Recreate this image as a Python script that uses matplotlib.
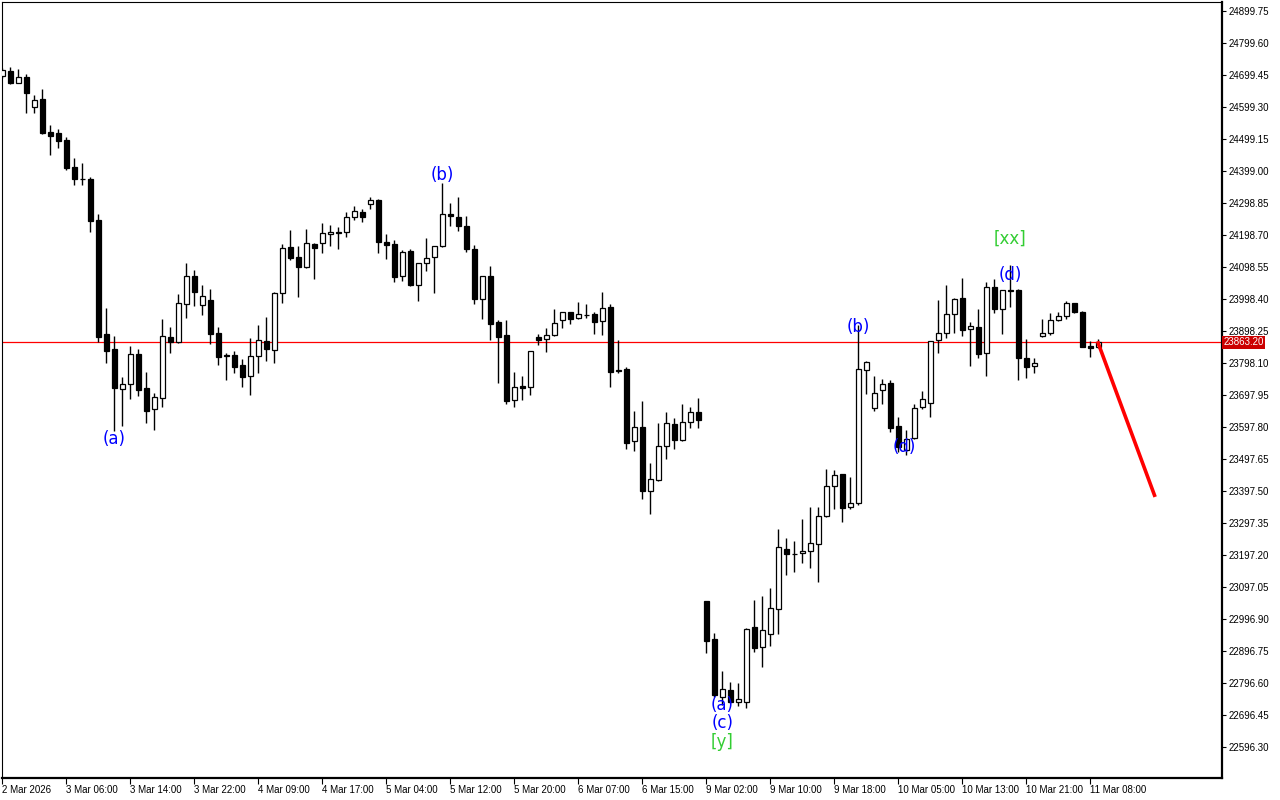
import numpy as np
import matplotlib
matplotlib.use("Agg")
import matplotlib.pyplot as plt
import matplotlib.transforms as mtransforms

# hourly candles (index 0 = first bar on the left)
opens = [24696, 24712, 24675, 24692, 24598, 24624, 24522, 24518, 24496, 24412,
         24375, 24374, 24246, 23889, 23842, 23718, 23732, 23826, 23719, 23653,
         23690, 23879, 23865, 23982, 24070, 23981, 23995, 23891, 23823, 23822,
         23791, 23757, 23819, 23866, 23838, 24016, 24160, 24129, 24100, 24170,
         24173, 24201, 24208, 24207, 24254, 24270, 24295, 24307, 24177, 24170,
         24070, 24149, 24043, 24110, 24129, 24163, 24264, 24254, 24227, 24154,
         23999, 24070, 23926, 23887, 23681, 23725, 23724, 23879, 23872, 23885,
         23934, 23958, 23938, 23949, 23952, 23929, 23972, 23776, 23778, 23553,
         23598, 23397, 23431, 23537, 23606, 23558, 23613, 23644, 23052, 22934,
         22754, 22775, 22736, 22736, 22971, 22908, 22949, 23027, 23217, 23201,
         23203, 23209, 23231, 23318, 23412, 23450, 23347, 23359, 23775, 23656,
         23713, 23735, 23600, 23526, 23563, 23661, 23672, 23869, 23891, 23951,
         24001, 23904, 23910, 23829, 24035, 23966, 24026, 24026, 23813, 23788,
         23882, 23891, 23932, 23944, 23985, 23957, 23851, 23847]
highs = [24721, 24726, 24718, 24703, 24637, 24656, 24543, 24531, 24505, 24439,
         24424, 24381, 24264, 23969, 23883, 23754, 23851, 23843, 23770, 23705,
         23936, 23912, 24014, 24111, 24089, 24041, 24030, 23911, 23829, 23835,
         23811, 23876, 23917, 23942, 24019, 24170, 24214, 24164, 24218, 24175,
         24236, 24230, 24224, 24271, 24290, 24279, 24317, 24310, 24202, 24182,
         24152, 24155, 24112, 24189, 24165, 24361, 24299, 24318, 24258, 24167,
         24071, 24101, 23932, 23932, 23770, 23757, 23836, 23889, 23907, 23967,
         23959, 23959, 23989, 23982, 23958, 24019, 23983, 23869, 23787, 23648,
         23679, 23485, 23609, 23644, 23625, 23669, 23660, 23689, 23054, 22953,
         22834, 22799, 22797, 22970, 23056, 23070, 23094, 23279, 23250, 23241,
         23310, 23347, 23347, 23466, 23464, 23451, 23440, 23917, 23804, 23757,
         23748, 23744, 23628, 23588, 23669, 23711, 23867, 23995, 24042, 24003,
         24064, 23926, 23967, 24052, 24062, 24027, 24105, 24030, 23873, 23814,
         23936, 23954, 23958, 23992, 23986, 23961, 23866, 23873]
lows = [24690, 24671, 24674, 24582, 24580, 24516, 24450, 24472, 24402, 24356,
        24356, 24209, 23865, 23797, 23586, 23602, 23685, 23696, 23611, 23588,
        23661, 23830, 23862, 23940, 23978, 23949, 23859, 23793, 23745, 23768,
        23724, 23699, 23768, 23804, 23799, 23987, 24121, 24006, 24096, 24062,
        24143, 24165, 24156, 24193, 24247, 24240, 24281, 24143, 24125, 24053,
        24056, 24039, 23993, 24087, 24018, 24160, 24228, 24212, 24147, 23983,
        23936, 23871, 23737, 23671, 23661, 23683, 23699, 23855, 23833, 23883,
        23909, 23921, 23937, 23938, 23890, 23887, 23724, 23766, 23528, 23522,
        23373, 23325, 23429, 23499, 23530, 23555, 23596, 23596, 22891, 22753,
        22728, 22734, 22725, 22719, 22895, 22848, 22913, 22951, 23136, 23145,
        23171, 23158, 23114, 23316, 23340, 23300, 23342, 23355, 23700, 23648,
        23671, 23583, 23520, 23510, 23561, 23655, 23630, 23830, 23877, 23892,
        23884, 23790, 23813, 23758, 23956, 23890, 23974, 23746, 23752, 23768,
        23880, 23885, 23931, 23937, 23956, 23847, 23816, 23846]
closes = [24715, 24675, 24694, 24642, 24620, 24519, 24510, 24494, 24409, 24373,
          24373, 24244, 23880, 23837, 23721, 23732, 23825, 23714, 23649, 23691,
          23883, 23864, 23985, 24070, 24019, 24007, 23890, 23818, 23819, 23787,
          23755, 23819, 23869, 23841, 24016, 24157, 24128, 24100, 24173, 24159,
          24204, 24207, 24204, 24254, 24273, 24254, 24307, 24176, 24168, 24068,
          24145, 24042, 24110, 24126, 24163, 24264, 24257, 24226, 24156, 23999,
          24070, 23921, 23880, 23680, 23724, 23721, 23835, 23871, 23886, 23922,
          23958, 23937, 23951, 23948, 23928, 23969, 23771, 23772, 23549, 23597,
          23399, 23434, 23537, 23609, 23558, 23613, 23644, 23621, 22929, 22759,
          22778, 22738, 22746, 22965, 22907, 22962, 23030, 23221, 23199, 23199,
          23209, 23234, 23318, 23412, 23447, 23345, 23359, 23778, 23800, 23705,
          23732, 23596, 23535, 23561, 23656, 23685, 23866, 23891, 23951, 23998,
          23902, 23913, 23827, 24035, 23966, 24026, 24025, 23813, 23787, 23797,
          23891, 23932, 23944, 23985, 23957, 23849, 23845, 23863.20]

last_price = 23863.20

# y axis ticks as printed on the right scale
price_ticks = [22596.30, 22696.45, 22796.60, 22896.75, 22996.90, 23097.05,
               23197.20, 23297.35, 23397.50, 23497.65, 23597.80, 23697.95,
               23798.10, 23898.25, 23998.40, 24098.55, 24198.70, 24298.85,
               24399.00, 24499.15, 24599.30, 24699.45, 24799.60, 24899.75]

time_labels = ["2 Mar 2026", "3 Mar 06:00", "3 Mar 14:00", "3 Mar 22:00",
               "4 Mar 09:00", "4 Mar 17:00", "5 Mar 04:00", "5 Mar 12:00",
               "5 Mar 20:00", "6 Mar 07:00", "6 Mar 15:00", "9 Mar 02:00",
               "9 Mar 10:00", "9 Mar 18:00", "10 Mar 05:00", "10 Mar 13:00",
               "10 Mar 21:00", "11 Mar 08:00"]
time_label_bars = [0, 8, 16, 24, 32, 40, 48, 56, 64, 72, 80, 88, 96, 104,
                   112, 120, 128, 136]

# wave labels: bar index, price, text, colour
wave_bars = [14, 55, 90, 90, 90, 107, 112.8, 126, 126]
wave_prices = [23560, 24385, 22728, 22671, 22612, 23910, 23535, 24186, 24074]
wave_texts = ["(a)", "(b)", "(a)", "(c)", "[y]", "(b)", "(d)", "[xx]", "(d)"]
wave_colors = ["#0000ff", "#0000ff", "#0000ff", "#0000ff", "#32cd32",
               "#0000ff", "#0000ff", "#32cd32", "#0000ff"]

# projected move (red line)
proj_bars = [136.9, 144.1]
proj_prices = [23866, 23379]

fig = plt.figure(figsize=(12.8, 8), dpi=100)
ax = fig.add_axes([2 / 1280, 22 / 800, 1220 / 1280, 776 / 800])

o = np.array(opens, dtype=float)
h = np.array(highs, dtype=float)
l = np.array(lows, dtype=float)
c = np.array(closes, dtype=float)
x = np.arange(len(o))
up = c >= o

ax.vlines(x, l, h, color="black", linewidth=1.0, zorder=2)
body_lo = np.minimum(o, c)
body_h = np.maximum(np.abs(c - o), 0.8)
ax.bar(x[up], body_h[up], bottom=body_lo[up], width=0.6, color="white",
       edgecolor="black", linewidth=0.9, zorder=3)
ax.bar(x[~up], body_h[~up], bottom=body_lo[~up], width=0.6, color="black",
       edgecolor="black", linewidth=0.9, zorder=3)

ax.axhline(last_price, color="#ff0000", linewidth=0.9, zorder=1)
ax.plot(proj_bars, proj_prices, color="#ff0000", linewidth=2.6,
        solid_capstyle="butt", zorder=4)

for bx, py, txt, col in zip(wave_bars, wave_prices, wave_texts, wave_colors):
    ax.text(bx, py, txt, color=col, fontsize=12, ha="center", va="center",
            family="DejaVu Sans", zorder=5)

ax.set_xlim(-0.04, 152.46)
ax.set_ylim(22499.3, 24928.0)

ax.yaxis.tick_right()
ax.set_yticks(price_ticks)
ax.set_yticklabels([f"{v:.2f}" for v in price_ticks])
ax.tick_params(axis="y", direction="out", length=3, width=0.8, pad=2,
               labelsize=7, colors="black")
ax.set_xticks(time_label_bars)
ax.set_xticklabels(time_labels, ha="left")
ax.tick_params(axis="x", direction="out", length=4, width=0.8, pad=1,
               labelsize=7, colors="black")
for lab in ax.get_xticklabels() + ax.get_yticklabels():
    lab.set_family("Liberation Sans")

for side in ["top", "left"]:
    ax.spines[side].set_linewidth(0.8)
    ax.spines[side].set_color("black")
for side in ["right", "bottom"]:
    ax.spines[side].set_linewidth(1.6)
    ax.spines[side].set_color("black")

# current price tag on the scale
trans = mtransforms.blended_transform_factory(ax.transAxes, ax.transData)
ax.text(1.001, last_price, f"{last_price:.2f}", transform=trans, color="white",
        fontsize=7, family="Liberation Sans", ha="left", va="center",
        bbox=dict(boxstyle="square,pad=0.15", facecolor="#cc0000",
                  edgecolor="none"), clip_on=False, zorder=6)

fig.savefig("out.png", dpi=100, facecolor="white")
